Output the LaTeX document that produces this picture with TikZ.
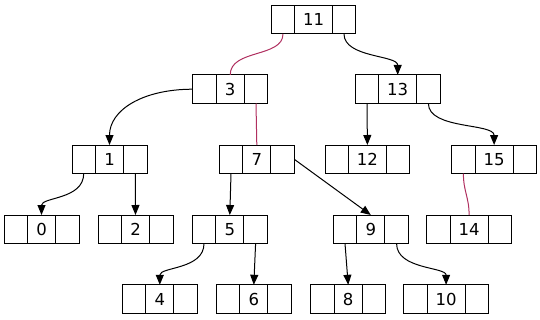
\documentclass[tikz,border=0pt]{standalone}
\usepackage{fontspec}
\setmainfont{DejaVu Sans}
\usetikzlibrary{arrows.meta}
\definecolor{redge}{HTML}{B03060}
\newcommand\recnode[5]{%
  \node[cell, minimum width=23.4pt, anchor=north west] (#1-l) at (#2,#3) {};
  \node[cell, minimum width=#5pt, anchor=west] (#1) at (#1-l.east) {#4};
  \node[cell, minimum width=23.4pt, anchor=west] (#1-r) at (#1.east) {};
}
\begin{document}
\begin{tikzpicture}[x=1pt,y=-1pt,
  cell/.style={draw, line width=1pt, minimum height=28.6pt, inner sep=0pt, outer sep=0pt,
    font=\fontsize{16.5}{18}\selectfont},
  arr/.style={draw, line width=1pt, -{Triangle[length=10pt,width=8pt]}},
  plain/.style={draw=redge, line width=1pt}]
\useasboundingbox (0,0) rectangle (540,319);
\recnode{n11}{271.3}{5.3}{11}{37.6}
\recnode{n3}{192.7}{74.9}{3}{28.2}
\recnode{n13}{355.3}{74.9}{13}{38}
\recnode{n1}{72}{145}{1}{28.2}
\recnode{n7}{219.3}{145}{7}{28.2}
\recnode{n12}{325}{145}{12}{38}
\recnode{n15}{451.7}{145}{15}{38}
\recnode{n0}{4}{215}{0}{28.2}
\recnode{n2}{98}{215}{2}{28.2}
\recnode{n5}{192.3}{215}{5}{28.2}
\recnode{n9}{333.3}{215}{9}{28.2}
\recnode{n14}{426.7}{215}{14}{38}
\recnode{n4}{122.3}{284.8}{4}{28.2}
\recnode{n6}{216.3}{284.8}{6}{28.2}
\recnode{n8}{310.7}{284.8}{8}{28.2}
\recnode{n10}{403.7}{284.8}{10}{38}
% edges
\path[plain] (n11-l.south) .. controls +(0,24) and +(0,-26) .. (n3.north);
\path[arr] (n11-r.south) .. controls +(0,24) and +(0,-20) .. (n13.north);
\path[arr] (n3-l.west) .. controls +(-50,0) and +(0,-35) .. (n1.north);
\path[plain] (n3-r.south) -- (n7.north);
\path[arr] (n13-l.south) -- (n12.north);
\path[arr] (n13-r.south) .. controls +(0,26) and +(0,-22) .. (n15.north);
\path[arr] (n1-l.south) .. controls +(0,26) and +(0,-18) .. (n0.north);
\path[arr] (n1-r.south) -- (n2.north);
\path[arr] (n7-l.south) -- (n5.north);
\path[arr] (n7-r.east) -- (n9.north);
\path[arr] (n5-l.south) .. controls +(0,26) and +(0,-18) .. (n4.north);
\path[arr] (n5-r.south) -- (n6.north);
\path[arr] (n9-l.south) -- (n8.north);
\path[arr] (n9-r.south) .. controls +(0,26) and +(0,-18) .. (n10.north);
\path[plain] (n15-l.south) .. controls +(0,18) and +(0,-18) .. (n14.north);
\end{tikzpicture}
\end{document}
